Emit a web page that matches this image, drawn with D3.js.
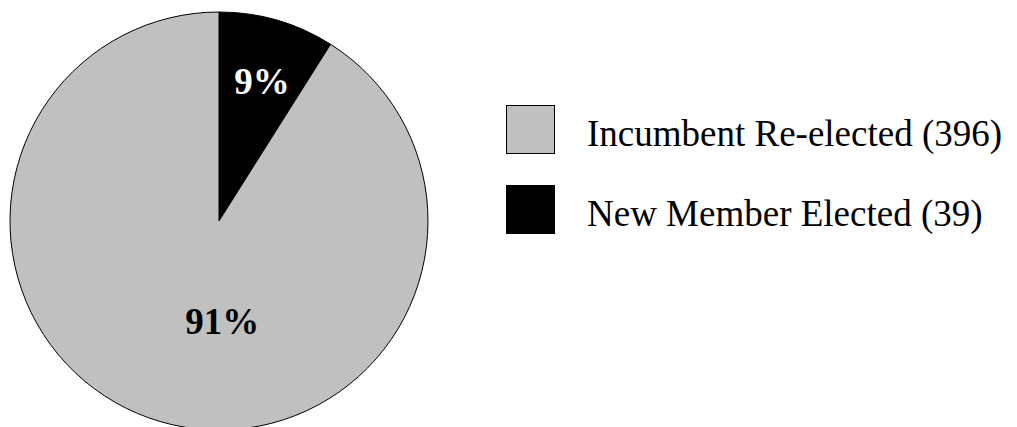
<!DOCTYPE html>
<html>
<head>
<meta charset="utf-8">
<script src="https://cdn.jsdelivr.net/npm/d3@7.9.0/dist/d3.min.js"></script>
<style>
  html, body { margin: 0; padding: 0; background: #fff; }
  svg { display: block; }
  text { font-family: "Liberation Serif", "Times New Roman", serif; }
</style>
</head>
<body>
<svg id="chart" width="1017" height="427"></svg>
<script>
// slices in drawing order (clockwise from 12 o'clock)
const categories = ['New Member Elected', 'Incumbent Re-elected'];
const counts = [39, 396];
const colors = ['#000000', '#c0c0c0'];
const labelColors = ['#ffffff', '#000000'];

// legend lists the incumbents first
const legendOrder = [1, 0];

const width = 1017, height = 427;
const cx = 219, cy = 221, radius = 209;

const svg = d3.select('#chart');
svg.append('rect').attr('width', width).attr('height', height).attr('fill', '#fff');

const total = d3.sum(counts);
const data = categories.map((c, i) => ({ label: c, value: counts[i], i }));

const pie = d3.pie().sort(null).value(d => d.value);
const arc = d3.arc().innerRadius(0).outerRadius(radius);
const arcs = pie(data);

const g = svg.append('g').attr('transform', `translate(${cx},${cy})`);

g.selectAll('path')
  .data(arcs)
  .join('path')
  .attr('d', arc)
  .attr('fill', d => colors[d.data.i])
  .attr('stroke', '#000')
  .attr('stroke-width', 1);

// percentage labels: small slice near its middle, big slice underneath centre
g.selectAll('text.pct')
  .data(arcs)
  .join('text')
  .attr('class', 'pct')
  .attr('transform', d => {
    const span = d.endAngle - d.startAngle;
    const a = span < Math.PI ? (d.startAngle + d.endAngle) / 2 * 1.06 : Math.PI * 0.99;
    const r = span < Math.PI ? radius * 0.70 : radius * 0.48;
    return `translate(${r * Math.sin(a)},${-r * Math.cos(a)})`;
  })
  .attr('text-anchor', 'middle')
  .attr('dy', '0.35em')
  .attr('fill', d => labelColors[d.data.i])
  .style('font-size', '37px')
  .style('font-weight', 'bold')
  .text(d => Math.round(d.data.value / total * 100) + '%');

// legend
const ly = d3.scaleBand().domain(legendOrder).range([89, 249]).paddingInner(0);
const legend = svg.append('g');
const items = legend.selectAll('g')
  .data(legendOrder)
  .join('g')
  .attr('transform', d => `translate(506,${ly(d) + ly.bandwidth() / 2})`);

items.append('rect')
  .attr('x', 0.5)
  .attr('y', -23.5)
  .attr('width', 48)
  .attr('height', 48)
  .attr('fill', d => colors[d])
  .attr('stroke', '#000')
  .attr('stroke-width', 1);

items.append('text')
  .attr('x', 81)
  .attr('y', 17)
  .style('font-size', '37px')
  .attr('fill', '#000')
  .text(d => `${categories[d]} (${counts[d]})`);
</script>
</body>
</html>
